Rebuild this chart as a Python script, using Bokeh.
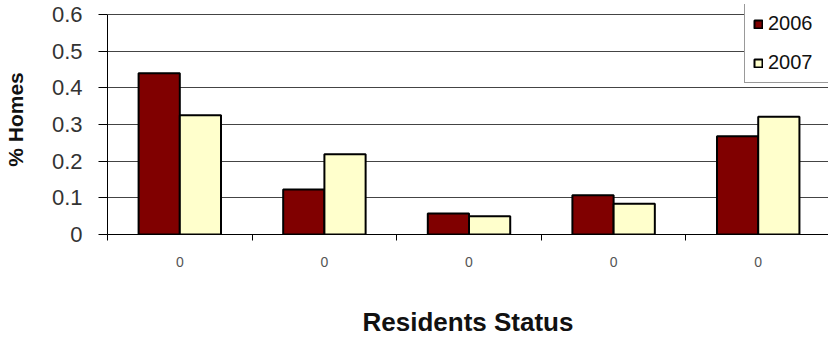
from bokeh.plotting import figure
from bokeh.models import Range1d, FixedTicker, Legend, LegendItem, ColumnDataSource
from bokeh.embed import file_html
from bokeh.resources import INLINE

categories = ["0", "0", "0", "0", "0"]
series_names = ["2006", "2007"]
values_2006 = [0.44, 0.123, 0.057, 0.107, 0.268]
values_2007 = [0.325, 0.219, 0.05, 0.084, 0.321]
y_ticks = [0, 0.1, 0.2, 0.3, 0.4, 0.5, 0.6]
y_tick_labels = ["0", "0.1", "0.2", "0.3", "0.4", "0.5", "0.6"]
x_title = "Residents Status"
y_title = "% Homes"
colors = ["#800000", "#FFFFCC"]

n = len(categories)
centers = [i + 0.5 for i in range(n)]
bw = 0.285
y_top = 0.6 * 230 / 220  # headroom above 0.6 so the legend box fits in the frame

p = figure(width=828, height=340, output_backend="svg", toolbar_location=None,
           x_range=Range1d(0, 4.986), y_range=Range1d(0, y_top),
           min_border_left=105, min_border_right=0, min_border_top=4, min_border_bottom=106)
p.outline_line_color = None
p.background_fill_color = "white"
p.border_fill_color = "white"

src = ColumnDataSource(dict(
    x06=[c - bw / 2 for c in centers], x07=[c + bw / 2 for c in centers],
    v06=values_2006, v07=values_2007))
r1 = p.vbar(x="x06", top="v06", width=bw, bottom=0, source=src,
            fill_color=colors[0], line_color="black", line_width=2)
r2 = p.vbar(x="x07", top="v07", width=bw, bottom=0, source=src,
            fill_color=colors[1], line_color="black", line_width=2)

# x axis
p.xaxis.ticker = FixedTicker(ticks=centers, minor_ticks=list(range(n + 1)))
p.xaxis.major_label_overrides = {c: lab for c, lab in zip(centers, categories)}
p.xaxis.major_tick_line_color = None
p.xaxis.major_tick_out = 0
p.xaxis.major_tick_in = 0
p.xaxis.minor_tick_out = 6
p.xaxis.minor_tick_in = 0
p.xaxis.minor_tick_line_color = "black"
p.xaxis.axis_line_color = "black"
p.xaxis.major_label_text_font = "Liberation Sans"
p.xaxis.major_label_text_font_size = "14px"
p.xaxis.major_label_text_color = "#555555"
p.xaxis.major_label_standoff = 16
p.xaxis.axis_label = x_title
p.xaxis.axis_label_text_font = "Liberation Sans"
p.xaxis.axis_label_text_font_style = "bold"
p.xaxis.axis_label_text_font_size = "26px"
p.xaxis.axis_label_text_color = "#111111"
p.xaxis.axis_label_standoff = 37

# y axis
p.yaxis.ticker = FixedTicker(ticks=y_ticks, minor_ticks=[])
p.yaxis.bounds = (0, 0.6)
p.yaxis.major_label_overrides = {t: lab for t, lab in zip(y_ticks, y_tick_labels)}
p.yaxis.major_tick_out = 9
p.yaxis.major_tick_in = 0
p.yaxis.major_tick_line_color = "black"
p.yaxis.axis_line_color = "black"
p.yaxis.major_label_text_font = "Liberation Sans"
p.yaxis.major_label_text_font_size = "22px"
p.yaxis.major_label_text_color = "#333333"
p.yaxis.major_label_standoff = 16
p.yaxis.axis_label = y_title
p.yaxis.axis_label_text_font = "Liberation Sans"
p.yaxis.axis_label_text_font_style = "bold"
p.yaxis.axis_label_text_font_size = "21px"
p.yaxis.axis_label_text_color = "#111111"
p.yaxis.axis_label_standoff = 22

p.xgrid.grid_line_color = None
p.ygrid.grid_line_color = "#444444"
p.ygrid.grid_line_width = 1

legend = Legend(items=[LegendItem(label=series_names[0], renderers=[r1]),
                       LegendItem(label=series_names[1], renderers=[r2])],
                location=(637, 151))
legend.border_line_color = "#333333"
legend.border_line_width = 1
legend.background_fill_color = "white"
legend.background_fill_alpha = 1
legend.label_text_font = "Liberation Sans"
legend.label_text_font_size = "20px"
legend.label_text_color = "#111111"
legend.glyph_width = 10
legend.glyph_height = 10
legend.label_standoff = 5
legend.label_height = 20
legend.label_width = 60
legend.spacing = 16
legend.padding = 8
legend.margin = 0
p.add_layout(legend, "center")

open("out.html", "w").write(file_html(p, INLINE))
